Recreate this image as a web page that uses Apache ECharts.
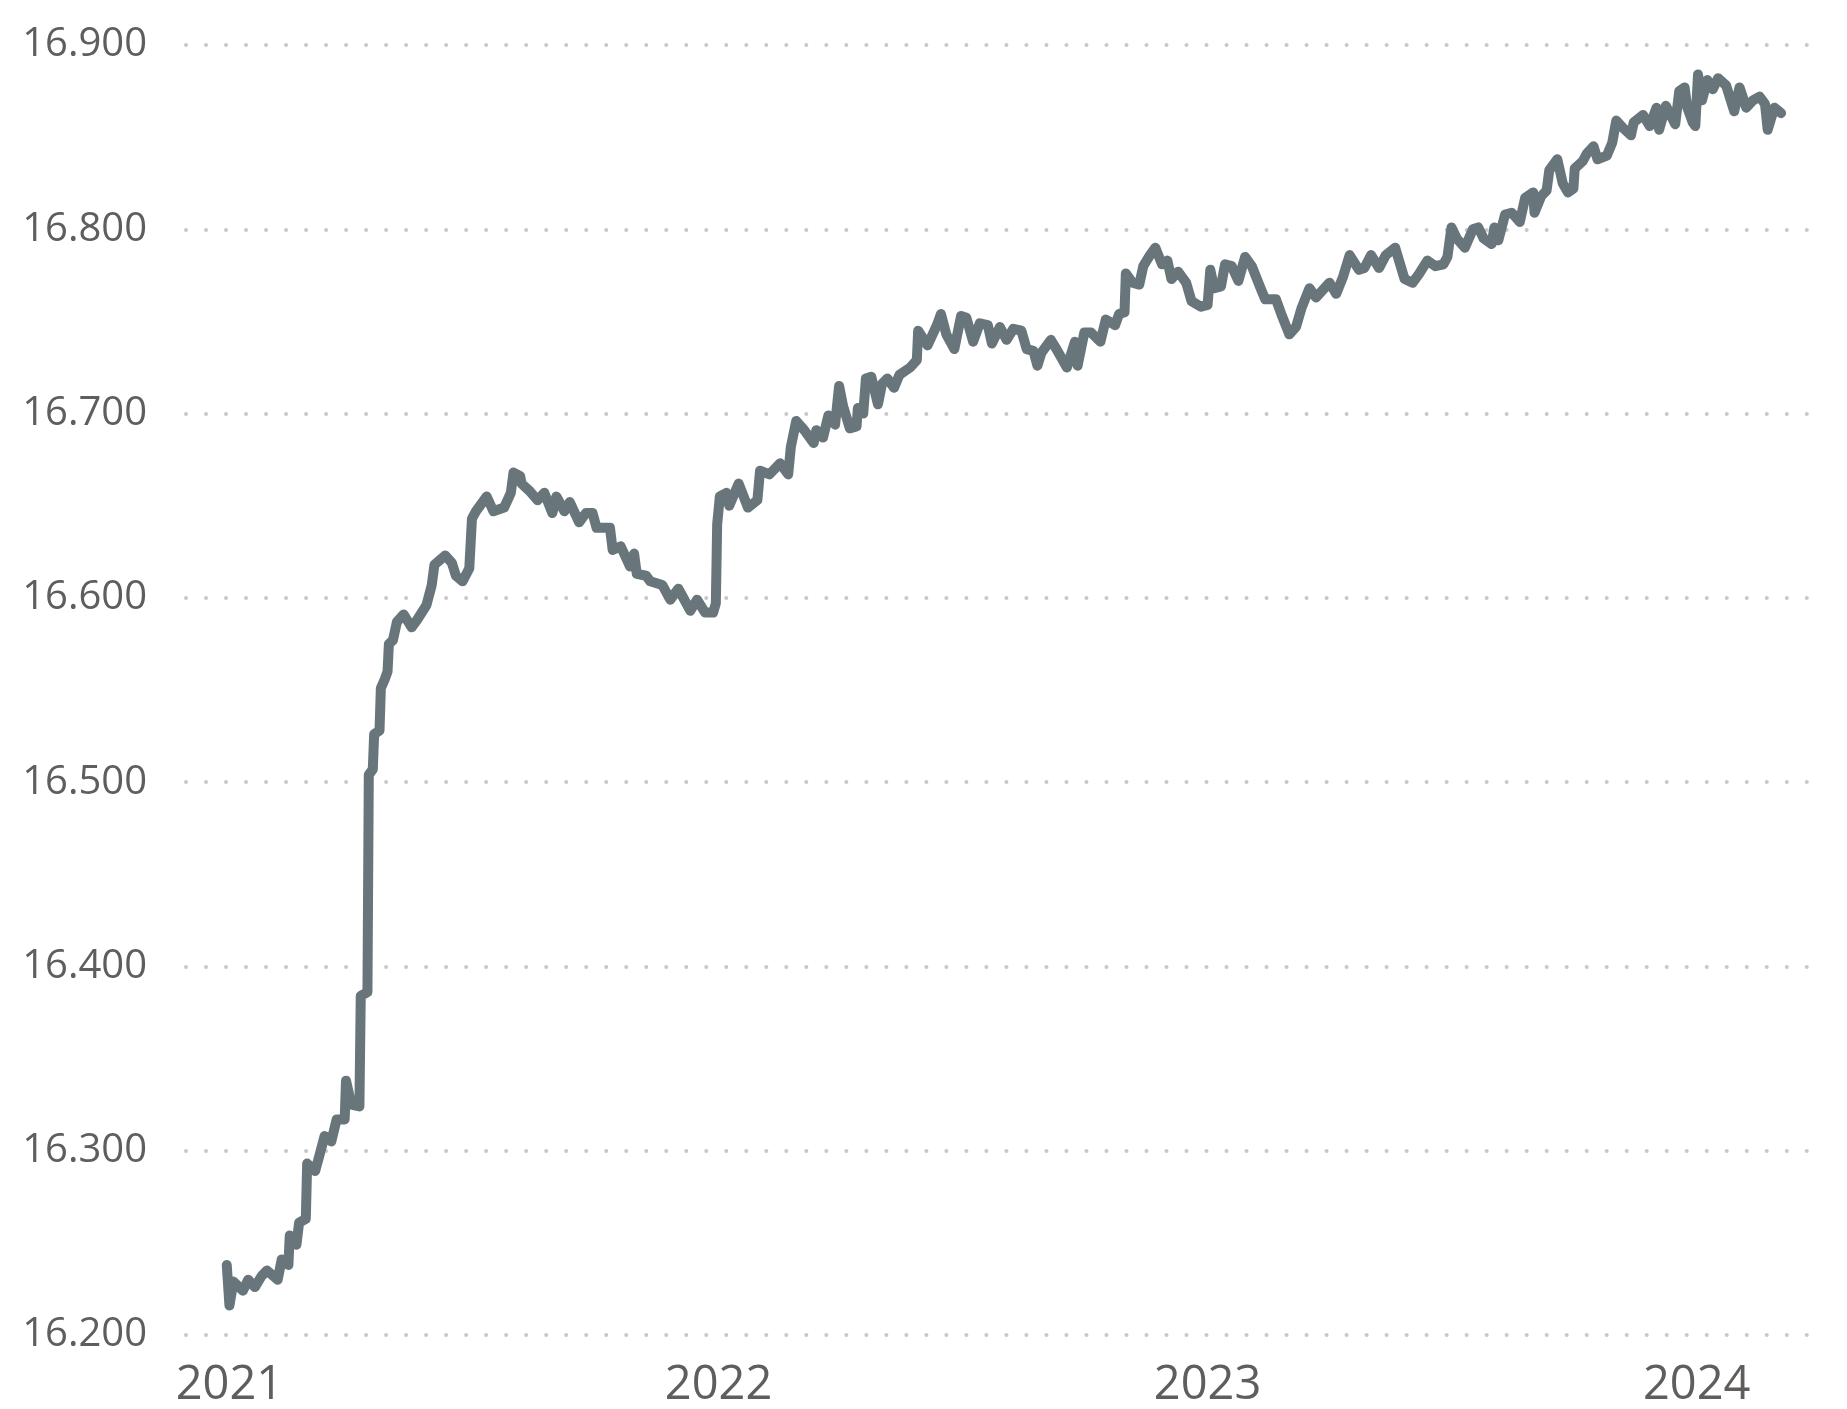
<!DOCTYPE html>
<html>
<head>
<meta charset="utf-8">
<script src="https://cdn.jsdelivr.net/npm/echarts@6/dist/echarts.min.js"></script>
<style>
  html, body { margin: 0; padding: 0; background: #ffffff; }
  #chart { width: 1847px; height: 1409px; }
</style>
</head>
<body>
<div id="chart"></div>
<script>
// y axis ticks (shown as 16.200 ... 16.900)
const yMin = 16200;
const yMax = 16900;
const yStep = 100;

// series, split per year
const dates2021 = ['2020-12-30','2021-01-01','2021-01-04','2021-01-11','2021-01-15','2021-01-20','2021-01-25','2021-01-29',
  '2021-02-06','2021-02-09','2021-02-14','2021-02-15','2021-02-20','2021-02-22','2021-02-27','2021-02-28',
  '2021-03-06','2021-03-09','2021-03-13','2021-03-18','2021-03-22','2021-03-28','2021-03-29','2021-04-02',
  '2021-04-08','2021-04-09','2021-04-14','2021-04-15','2021-04-18','2021-04-19','2021-04-23','2021-04-24',
  '2021-04-27','2021-04-29','2021-04-30','2021-05-03','2021-05-06','2021-05-11','2021-05-17','2021-05-21',
  '2021-05-28','2021-06-01','2021-06-03','2021-06-11','2021-06-16','2021-06-19','2021-06-24','2021-06-29',
  '2021-07-01','2021-07-04','2021-07-12','2021-07-17','2021-07-25','2021-07-30','2021-08-01','2021-08-06',
  '2021-08-07','2021-08-13','2021-08-19','2021-08-24','2021-08-30','2021-09-02','2021-09-08','2021-09-12',
  '2021-09-19','2021-09-24','2021-09-29','2021-10-02','2021-10-12','2021-10-14','2021-10-20','2021-10-27',
  '2021-10-30','2021-11-01','2021-11-08','2021-11-11','2021-11-20','2021-11-26','2021-12-02','2021-12-05',
  '2021-12-11','2021-12-16','2021-12-22','2021-12-28','2021-12-30','2021-12-31'];
const values2021 = [16238,16216,16229,16224,16230,16226,16232,16235,
  16230,16241,16238,16254,16249,16261,16263,16293,
  16289,16297,16308,16305,16317,16317,16338,16325,
  16324,16384,16386,16504,16507,16526,16528,16551,
  16556,16560,16575,16577,16587,16591,16584,16588,
  16596,16607,16618,16623,16619,16612,16609,16616,
  16643,16647,16655,16647,16649,16657,16668,16666,
  16662,16658,16653,16657,16646,16655,16647,16652,
  16641,16646,16646,16638,16638,16626,16628,16617,
  16624,16613,16612,16609,16607,16599,16605,16601,
  16593,16599,16592,16592,16597,16640];

const dates2022 = ['2022-01-02','2022-01-07','2022-01-09','2022-01-16','2022-01-23','2022-01-30','2022-02-01','2022-02-08',
  '2022-02-16','2022-02-22','2022-02-24','2022-02-28','2022-03-06','2022-03-13','2022-03-15','2022-03-20',
  '2022-03-24','2022-03-29','2022-04-01','2022-04-04','2022-04-09','2022-04-14','2022-04-15','2022-04-19',
  '2022-04-21','2022-04-25','2022-04-30','2022-05-03','2022-05-07','2022-05-12','2022-05-16','2022-05-24',
  '2022-05-29','2022-05-30','2022-06-06','2022-06-13','2022-06-16','2022-06-20','2022-06-26','2022-07-01',
  '2022-07-05','2022-07-10','2022-07-15','2022-07-21','2022-07-24','2022-07-30','2022-08-04','2022-08-09',
  '2022-08-15','2022-08-19','2022-08-24','2022-08-27','2022-08-30','2022-09-06','2022-09-11','2022-09-18',
  '2022-09-24','2022-09-26','2022-10-01','2022-10-06','2022-10-13','2022-10-17','2022-10-24','2022-10-27',
  '2022-10-31','2022-11-01','2022-11-06','2022-11-11','2022-11-14','2022-11-19','2022-11-23','2022-11-28',
  '2022-12-02','2022-12-05','2022-12-10','2022-12-16','2022-12-20','2022-12-27'];
const values2022 = [16655,16657,16650,16662,16649,16653,16669,16667,
  16673,16667,16682,16696,16691,16684,16691,16687,
  16699,16694,16715,16704,16692,16693,16703,16700,
  16719,16720,16705,16716,16719,16714,16721,16725,
  16729,16745,16737,16748,16754,16743,16735,16753,
  16752,16739,16749,16748,16738,16747,16740,16746,
  16745,16735,16734,16726,16733,16740,16734,16725,
  16739,16726,16744,16744,16739,16751,16748,16754,
  16755,16776,16771,16770,16780,16786,16790,16781,
  16783,16773,16777,16771,16761,16758];

const dates2023 = ['2023-01-01','2023-01-03','2023-01-06','2023-01-11','2023-01-14','2023-01-19','2023-01-24','2023-01-29',
  '2023-02-03','2023-02-09','2023-02-13','2023-02-21','2023-02-25','2023-03-03','2023-03-08','2023-03-12',
  '2023-03-18','2023-03-23','2023-04-02','2023-04-07','2023-04-12','2023-04-17','2023-04-24','2023-04-28',
  '2023-05-03','2023-05-09','2023-05-14','2023-05-21','2023-05-28','2023-06-03','2023-06-08','2023-06-14',
  '2023-06-20','2023-06-26','2023-06-29','2023-07-02','2023-07-06','2023-07-12','2023-07-18','2023-07-22',
  '2023-07-26','2023-08-01','2023-08-03','2023-08-06','2023-08-11','2023-08-16','2023-08-22','2023-08-26',
  '2023-09-01','2023-09-02','2023-09-07','2023-09-11','2023-09-13','2023-09-19','2023-09-23','2023-09-27',
  '2023-10-01','2023-10-02','2023-10-08','2023-10-11','2023-10-16','2023-10-19','2023-10-26','2023-10-30',
  '2023-11-02','2023-11-07','2023-11-13','2023-11-15','2023-11-22','2023-11-27','2023-12-02','2023-12-04',
  '2023-12-09','2023-12-16','2023-12-19','2023-12-23','2023-12-25','2023-12-29','2023-12-31'];
const values2023 = [16759,16778,16768,16769,16781,16780,16772,16785,
  16780,16769,16762,16762,16754,16743,16747,16757,
  16768,16763,16771,16765,16774,16786,16778,16779,
  16786,16779,16786,16790,16773,16771,16776,16783,
  16780,16781,16785,16801,16795,16790,16800,16801,
  16795,16792,16801,16794,16808,16809,16804,16817,
  16820,16809,16818,16821,16832,16838,16825,16820,
  16822,16833,16837,16841,16845,16838,16840,16847,
  16859,16855,16851,16858,16862,16856,16866,16854,
  16867,16857,16875,16877,16866,16858,16856];

const dates2024 = ['2024-01-02','2024-01-05','2024-01-09','2024-01-13','2024-01-17','2024-01-23','2024-01-29','2024-02-02',
  '2024-02-07','2024-02-12','2024-02-17','2024-02-21','2024-02-23','2024-02-28','2024-03-04'];
const values2024 = [16884,16870,16881,16876,16882,16878,16864,16877,
  16866,16870,16872,16868,16854,16866,16863];

const allDates = dates2021.concat(dates2022, dates2023, dates2024);
const allValues = values2021.concat(values2022, values2023, values2024);
const seriesData = allDates.map((d, i) => [d, allValues[i]]);

const chart = echarts.init(document.getElementById('chart'), null, { renderer: 'canvas' });

const labelFont = "'Segoe UI', 'Open Sans', 'Noto Sans', sans-serif";

const option = {
  backgroundColor: '#ffffff',
  animation: false,
  grid: {
    left: 186,
    right: 37,
    top: 45,
    bottom: 74,
    containLabel: false
  },
  xAxis: {
    type: 'time',
    min: +new Date(2020, 10, 29, 14),
    max: +new Date(2024, 2, 25, 14),
    splitNumber: 4,
    axisLine: { show: false },
    axisTick: { show: false },
    splitLine: { show: false },
    axisLabel: {
      hideOverlap: false,
      showMinLabel: false,
      showMaxLabel: false,
      margin: 27,
      fontFamily: labelFont,
      fontSize: 47,
      lineHeight: 47,
      color: '#605e5c',
      formatter: function (v) {
        const d = new Date(v);
        return (d.getMonth() === 0 && d.getDate() === 1) ? String(d.getFullYear()) : '';
      }
    }
  },
  yAxis: {
    type: 'value',
    min: yMin,
    max: yMax,
    interval: yStep,
    axisLine: { show: false },
    axisTick: { show: false },
    axisLabel: {
      margin: 39,
      fontFamily: labelFont,
      fontSize: 40,
      color: '#605e5c',
      formatter: function (v) {
        return (v / 1000).toFixed(3);
      }
    },
    splitLine: {
      show: true,
      lineStyle: {
        color: '#c8c8c8',
        width: 4,
        type: [0.01, 20],
        cap: 'round'
      }
    }
  },
  series: [
    {
      type: 'line',
      data: seriesData,
      showSymbol: false,
      smooth: false,
      lineStyle: {
        color: '#68767c',
        width: 10,
        cap: 'round',
        join: 'round'
      },
      itemStyle: { color: '#68767c' }
    }
  ]
};

chart.setOption(option);
</script>
</body>
</html>
